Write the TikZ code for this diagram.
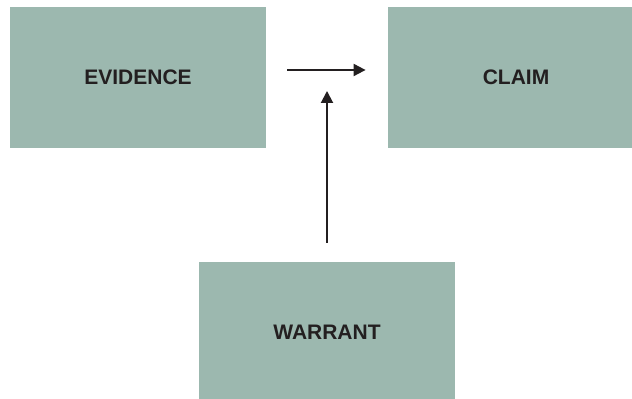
\documentclass[tikz,border=0pt]{standalone}
\usepackage{fontspec}
\setmainfont{Liberation Sans}
\usetikzlibrary{arrows.meta,positioning}
\definecolor{boxgreen}{HTML}{9CB8AF}
\definecolor{inkdark}{HTML}{231F20}

\begin{document}
\begin{tikzpicture}[x=0.5pt,y=-0.5pt,
  block/.style={fill=boxgreen, minimum width=128pt, minimum height=70.5pt, inner sep=0pt,
    font=\fontsize{10.5}{12}\selectfont\bfseries, text=inkdark},
  link/.style={line width=1pt, draw=inkdark, -{Triangle[length=6pt,width=6pt]}}]

	\useasboundingbox (0,0) rectangle (632,399);

	% Boxes
	\node[block] (evidence) at (138,77.5) {EVIDENCE};
	\node[block] (claim) at (516,77.5) {CLAIM};
	\node[block] (warrant) at (327,332.5) {WARRANT};

	% Arrows
	\coordinate (from) at ([xshift=10.5pt,yshift=3.75pt]evidence.east);
	\coordinate (to) at ([xshift=-11pt,yshift=3.75pt]claim.west);
	\coordinate (meet) at (from -| warrant.north);
	\draw[link] (from) -- (to);
	\draw[link] ([yshift=9.5pt]warrant.north) -- ([yshift=-10.5pt]meet);

\end{tikzpicture}
\end{document}
